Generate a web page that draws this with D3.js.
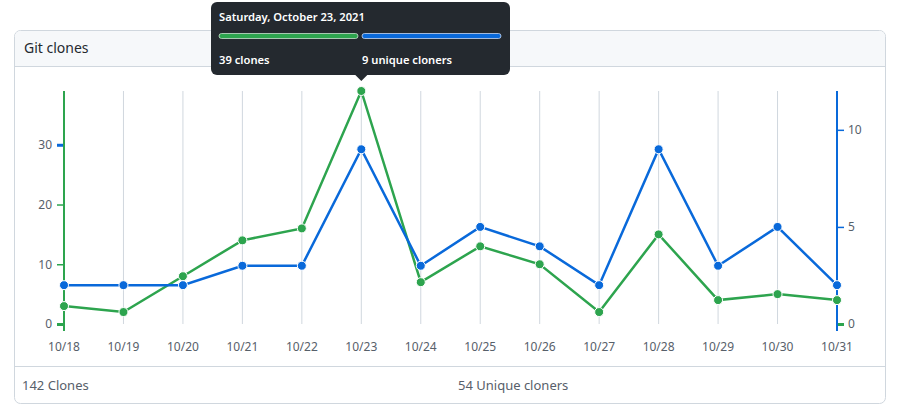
<!DOCTYPE html>
<html><head><meta charset="utf-8">
<script src="https://cdn.jsdelivr.net/npm/d3@7"></script>
<style>
html,body{margin:0;padding:0;background:#fff;}
body{width:909px;height:414px;overflow:hidden;font-family:"Noto Sans","Open Sans",sans-serif;}
</style></head>
<body><svg id="c" width="909" height="414"></svg>
<script>
const dates = ["10/18","10/19","10/20","10/21","10/22","10/23","10/24","10/25","10/26","10/27","10/28","10/29","10/30","10/31"];
const clones = [3,2,8,14,16,39,7,13,10,2,15,4,5,4];
const uniques = [2,2,2,3,3,9,3,5,4,2,9,3,5,2];
const leftTicks = [0,10,20,30];
const rightTicks = [0,5,10];
const title = "Git clones";
const tipDate = "Saturday, October 23, 2021";
const tipIndex = 5;

const GREEN = "#2da44e", BLUE = "#0969da", BORDER = "#d0d7de", TEXT = "#57606a";
const svg = d3.select("#c");

// card
svg.append("rect").attr("x",14.5).attr("y",30.5).attr("width",871).attr("height",373)
  .attr("rx",6).attr("fill","#fff").attr("stroke",BORDER);
svg.append("path").attr("d","M15,66 L15,37 Q15,31 21,31 L879,31 Q885,31 885,37 L885,66 Z").attr("fill","#f6f8fa");
svg.append("line").attr("x1",15).attr("x2",885).attr("y1",66.5).attr("y2",66.5).attr("stroke",BORDER);
svg.append("line").attr("x1",15).attr("x2",885).attr("y1",366.5).attr("y2",366.5).attr("stroke",BORDER);
svg.append("text").attr("x",24).attr("y",53).attr("font-size",14).attr("fill","#24292f").text(title);
svg.append("text").attr("x",22).attr("y",390).attr("font-size",13).attr("fill",TEXT)
  .text(d3.sum(clones)+" Clones");
svg.append("text").attr("x",458).attr("y",390).attr("font-size",13).attr("fill",TEXT)
  .text(d3.sum(uniques)+" Unique cloners");

const x = d3.scalePoint().domain(dates).range([64,837]);
const yL = d3.scaleLinear().domain([0,d3.max(clones)]).range([324,91]);
const yR = d3.scaleLinear().domain([0,12]).range([324,91]);

// grid
svg.append("g").selectAll("line").data(dates.slice(1,-1)).join("line")
  .attr("x1",d=>x(d)).attr("x2",d=>x(d)).attr("y1",91).attr("y2",324)
  .attr("stroke",BORDER).attr("stroke-width",1);

// x axis labels
svg.append("g").selectAll("text").data(dates).join("text")
  .attr("x",d=>x(d)).attr("y",351).attr("text-anchor","middle").attr("font-size",12)
  .attr("fill",TEXT).text(d=>d);

// left axis
const gL = svg.append("g").attr("transform","translate(64,0)")
  .call(d3.axisLeft(yL).tickValues(leftTicks).tickSize(7).tickPadding(5));
gL.select(".domain").remove();
gL.selectAll(".tick line").attr("stroke",(d)=>d===30?BLUE:GREEN).attr("stroke-width",d=>(d===30||d===0)?3:1.5);
gL.selectAll(".tick text").attr("fill",TEXT).attr("font-size",12).attr("font-family","Noto Sans");
svg.append("line").attr("x1",64).attr("x2",64).attr("y1",91).attr("y2",331).attr("stroke",GREEN).attr("stroke-width",2);

// right axis
const gR = svg.append("g").attr("transform","translate(837,0)")
  .call(d3.axisRight(yR).tickValues(rightTicks).tickSize(7).tickPadding(4));
gR.select(".domain").remove();
gR.selectAll(".tick line").attr("stroke",d=>d===0?GREEN:BLUE).attr("stroke-width",d=>d===0?3:1.5);
gR.selectAll(".tick text").attr("fill",TEXT).attr("font-size",12).attr("font-family","Noto Sans");
svg.append("line").attr("x1",837).attr("x2",837).attr("y1",91).attr("y2",331).attr("stroke",BLUE).attr("stroke-width",2);

// lines
function series(vals, y, color){
  const g = svg.append("g");
  g.append("path").datum(vals).attr("fill","none").attr("stroke",color).attr("stroke-width",2.5)
    .attr("d",d3.line().x((d,i)=>x(dates[i])).y(d=>y(d)));
  g.selectAll("circle").data(vals).join("circle").attr("cx",(d,i)=>x(dates[i])).attr("cy",d=>y(d))
    .attr("r",4.5).attr("fill",color).attr("stroke","#fff").attr("stroke-width",1);
}
series(clones, yL, GREEN);
series(uniques, yR, BLUE);

// tooltip
const tx = x(dates[tipIndex]);
const tip = svg.append("g");
tip.append("rect").attr("x",211).attr("y",2).attr("width",299).attr("height",73).attr("rx",6).attr("fill","#24292f");
tip.append("path").attr("d",`M${tx-6},75 L${tx},81 L${tx+6},75 Z`).attr("fill","#24292f");
tip.append("text").attr("x",219).attr("y",21).attr("font-size",11.2).attr("font-weight",600).attr("fill","#fff").text(tipDate);
tip.append("rect").attr("x",219).attr("y",33.5).attr("width",139).attr("height",5).attr("rx",2.5)
  .attr("fill",GREEN).attr("stroke","#c8e1cf").attr("stroke-width",0.8);
tip.append("rect").attr("x",362).attr("y",33.5).attr("width",139).attr("height",5).attr("rx",2.5)
  .attr("fill",BLUE).attr("stroke","#c6d8f3").attr("stroke-width",0.8);
tip.append("text").attr("x",219).attr("y",64).attr("font-size",11.2).attr("font-weight",600).attr("fill","#fff")
  .text(clones[tipIndex]+" clones");
tip.append("text").attr("x",362).attr("y",64).attr("font-size",11.2).attr("font-weight",600).attr("fill","#fff")
  .text(uniques[tipIndex]+" unique cloners");
</script></body></html>
